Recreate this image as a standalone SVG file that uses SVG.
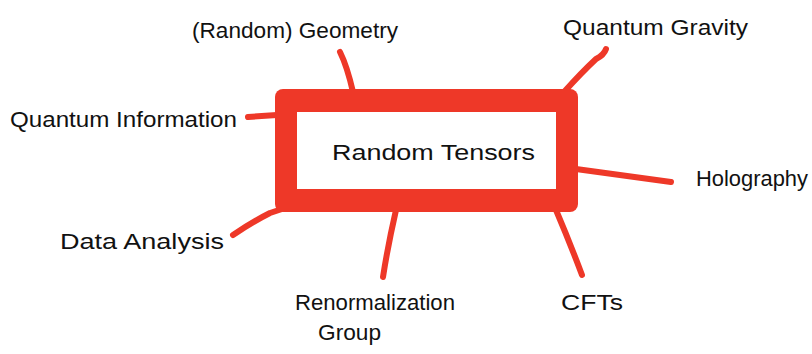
<svg xmlns="http://www.w3.org/2000/svg" width="812" height="354" viewBox="0 0 812 354">
<style>
.lbl{font-family:"Liberation Sans",Arial,sans-serif;font-size:22px;fill:#111;}
.ln{fill:none;stroke:#EE3828;stroke-width:6;stroke-linecap:round;stroke-linejoin:round;}
.outer{fill:#EE3828;}
.inner{fill:#fff;}
</style>
<rect width="812" height="354" fill="#fff"/>
<g id="connectors">
<path class="ln" d="M340,52 Q347,66 353,92"/>
<path class="ln" d="M248,117 Q262,116 277,115"/>
<path class="ln" d="M606,49 Q604,55 596,59 Q582,72 564,92"/>
<path class="ln" d="M576,169 Q620,175 671,182"/>
<path class="ln" d="M556,210 Q570,243 582,275"/>
<path class="ln" d="M396,210 Q388,245 383,277"/>
<path class="ln" d="M233,235 Q252,222 270,213 L282,209"/>
</g>
<g id="center">
<rect class="outer" x="275" y="89" width="303" height="123" rx="8"/>
<rect class="inner" x="297" y="112" width="259" height="77"/>
<text class="lbl" x="332" y="160" font-size="24" textLength="203" lengthAdjust="spacingAndGlyphs">Random Tensors</text>
</g>
<g id="geometry"><text class="lbl" x="192" y="38" textLength="206" lengthAdjust="spacingAndGlyphs">(Random) Geometry</text></g>
<g id="qinfo"><text class="lbl" x="10" y="127" textLength="227" lengthAdjust="spacingAndGlyphs">Quantum Information</text></g>
<g id="qgravity"><text class="lbl" x="563" y="35" textLength="185" lengthAdjust="spacingAndGlyphs">Quantum Gravity</text></g>
<g id="holography"><text class="lbl" x="696" y="186" textLength="112" lengthAdjust="spacingAndGlyphs">Holography</text></g>
<g id="cfts"><text class="lbl" x="561" y="310" textLength="62" lengthAdjust="spacingAndGlyphs">CFTs</text></g>
<g id="rg"><text class="lbl" x="295" y="310" textLength="160" lengthAdjust="spacingAndGlyphs">Renormalization</text><text class="lbl" x="318" y="340" textLength="63" lengthAdjust="spacingAndGlyphs">Group</text></g>
<g id="data"><text class="lbl" x="60" y="249" textLength="164" lengthAdjust="spacingAndGlyphs">Data Analysis</text></g>
</svg>
